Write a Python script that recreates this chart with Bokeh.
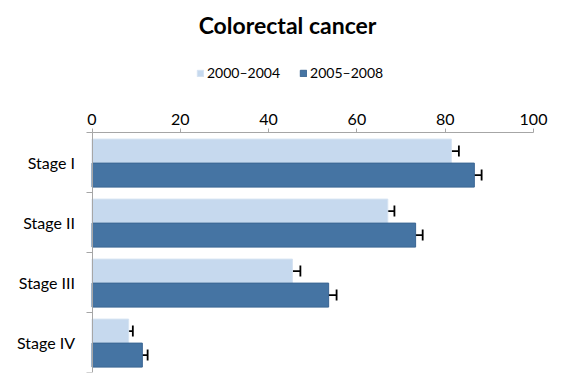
from bokeh.plotting import figure
from bokeh.models import (Range1d, FixedTicker, Whisker, ColumnDataSource,
                          Legend, LegendItem, TeeHead, Label, LinearAxis)
from bokeh.embed import file_html
from bokeh.resources import INLINE

stages = ["Stage I", "Stage II", "Stage III", "Stage IV"]
series_labels = ["2000\u20132004", "2005\u20132008"]
early = [81.4, 67.0, 45.4, 8.3]
early_err = [1.7, 1.5, 1.8, 0.95]
late = [86.6, 73.3, 53.6, 11.4]
late_err = [1.65, 1.6, 1.8, 1.2]
x_ticks = [0, 20, 40, 60, 80, 100]
title_text = "Colorectal cancer"

FONT = "Lato"
LIGHT = "#c6d9ee"
DARK = "#4574a3"
AXIS = "#a6a6a6"

n = len(stages)
x_lo, x_hi = x_ticks[0], x_ticks[-1]
px_per_unit = 4.415
p = figure(width=554, height=379,
           x_range=Range1d(x_lo - 91.5 / px_per_unit, x_hi + 21 / px_per_unit),
           y_range=Range1d(n, -2.2),
           x_axis_location=None, y_axis_location=None,
           output_backend="svg", toolbar_location=None,
           min_border_left=0, min_border_right=0, min_border_top=0, min_border_bottom=7)

centers = [i + 0.5 for i in range(n)]
y_light = [c - 0.19 for c in centers]
y_dark = [c + 0.21 for c in centers]

src_l = ColumnDataSource(dict(y=y_light, v=early, lo=[v - e for v, e in zip(early, early_err)],
                              hi=[v + e for v, e in zip(early, early_err)]))
src_d = ColumnDataSource(dict(y=y_dark, v=late, lo=[v - e for v, e in zip(late, late_err)],
                              hi=[v + e for v, e in zip(late, late_err)]))

r_l = p.hbar(y="y", right="v", left=0, height=0.4, source=src_l,
             fill_color=LIGHT, line_color="#d6e3f2", line_width=1)
r_d = p.hbar(y="y", right="v", left=0, height=0.4, source=src_d,
             fill_color=DARK, line_color="#3a6593", line_width=1)

for src in (src_l, src_d):
    w = Whisker(source=src, base="y", lower="lo", upper="hi", dimension="width",
                line_color="black", line_width=1.8,
                upper_head=TeeHead(size=11, line_color="black", line_width=1.8),
                lower_head=TeeHead(size=11, line_color="black", line_width=1.8))
    p.add_layout(w)

p.grid.visible = False
p.outline_line_color = None

xa = LinearAxis(fixed_location=0, bounds=(x_lo, x_hi))
xa.ticker = FixedTicker(ticks=x_ticks)
xa.axis_line_color = AXIS
xa.major_tick_line_color = AXIS
xa.major_tick_out = 4
xa.major_tick_in = 0
xa.minor_tick_line_color = None
xa.major_label_text_font = FONT
xa.major_label_text_font_size = "16px"
xa.major_label_text_color = "black"
xa.major_label_standoff = 4
p.add_layout(xa, "above")

ya = LinearAxis(fixed_location=0, bounds=(0, n))
ya.ticker = FixedTicker(ticks=centers, minor_ticks=list(range(n + 1)))
ya.major_label_overrides = {c: s for c, s in zip(centers, stages)}
ya.axis_line_color = AXIS
ya.major_tick_line_color = None
ya.major_tick_out = 0
ya.major_tick_in = 0
ya.minor_tick_line_color = AXIS
ya.minor_tick_out = 6
ya.minor_tick_in = 0
ya.major_label_text_font = FONT
ya.major_label_text_font_size = "16px"
ya.major_label_text_color = "black"
ya.major_label_standoff = 11
p.add_layout(ya, "left")

title = Label(x=287, y=348, x_units="screen", y_units="screen", text=title_text,
              text_align="center", text_baseline="alphabetic",
              text_font=FONT, text_font_size="23px", text_font_style="bold",
              text_color="black")
p.add_layout(title)

legend = Legend(items=[LegendItem(label=series_labels[0], renderers=[r_l]),
                       LegendItem(label=series_labels[1], renderers=[r_d])],
                orientation="horizontal", location=(196, 291),
                label_text_font=FONT, label_text_font_size="14px",
                label_text_color="black",
                glyph_width=8, glyph_height=8, label_standoff=3, spacing=19,
                border_line_color=None, background_fill_alpha=0,
                padding=0, margin=0)
p.add_layout(legend, "center")

open("out.html", "w").write(file_html(p, INLINE))
